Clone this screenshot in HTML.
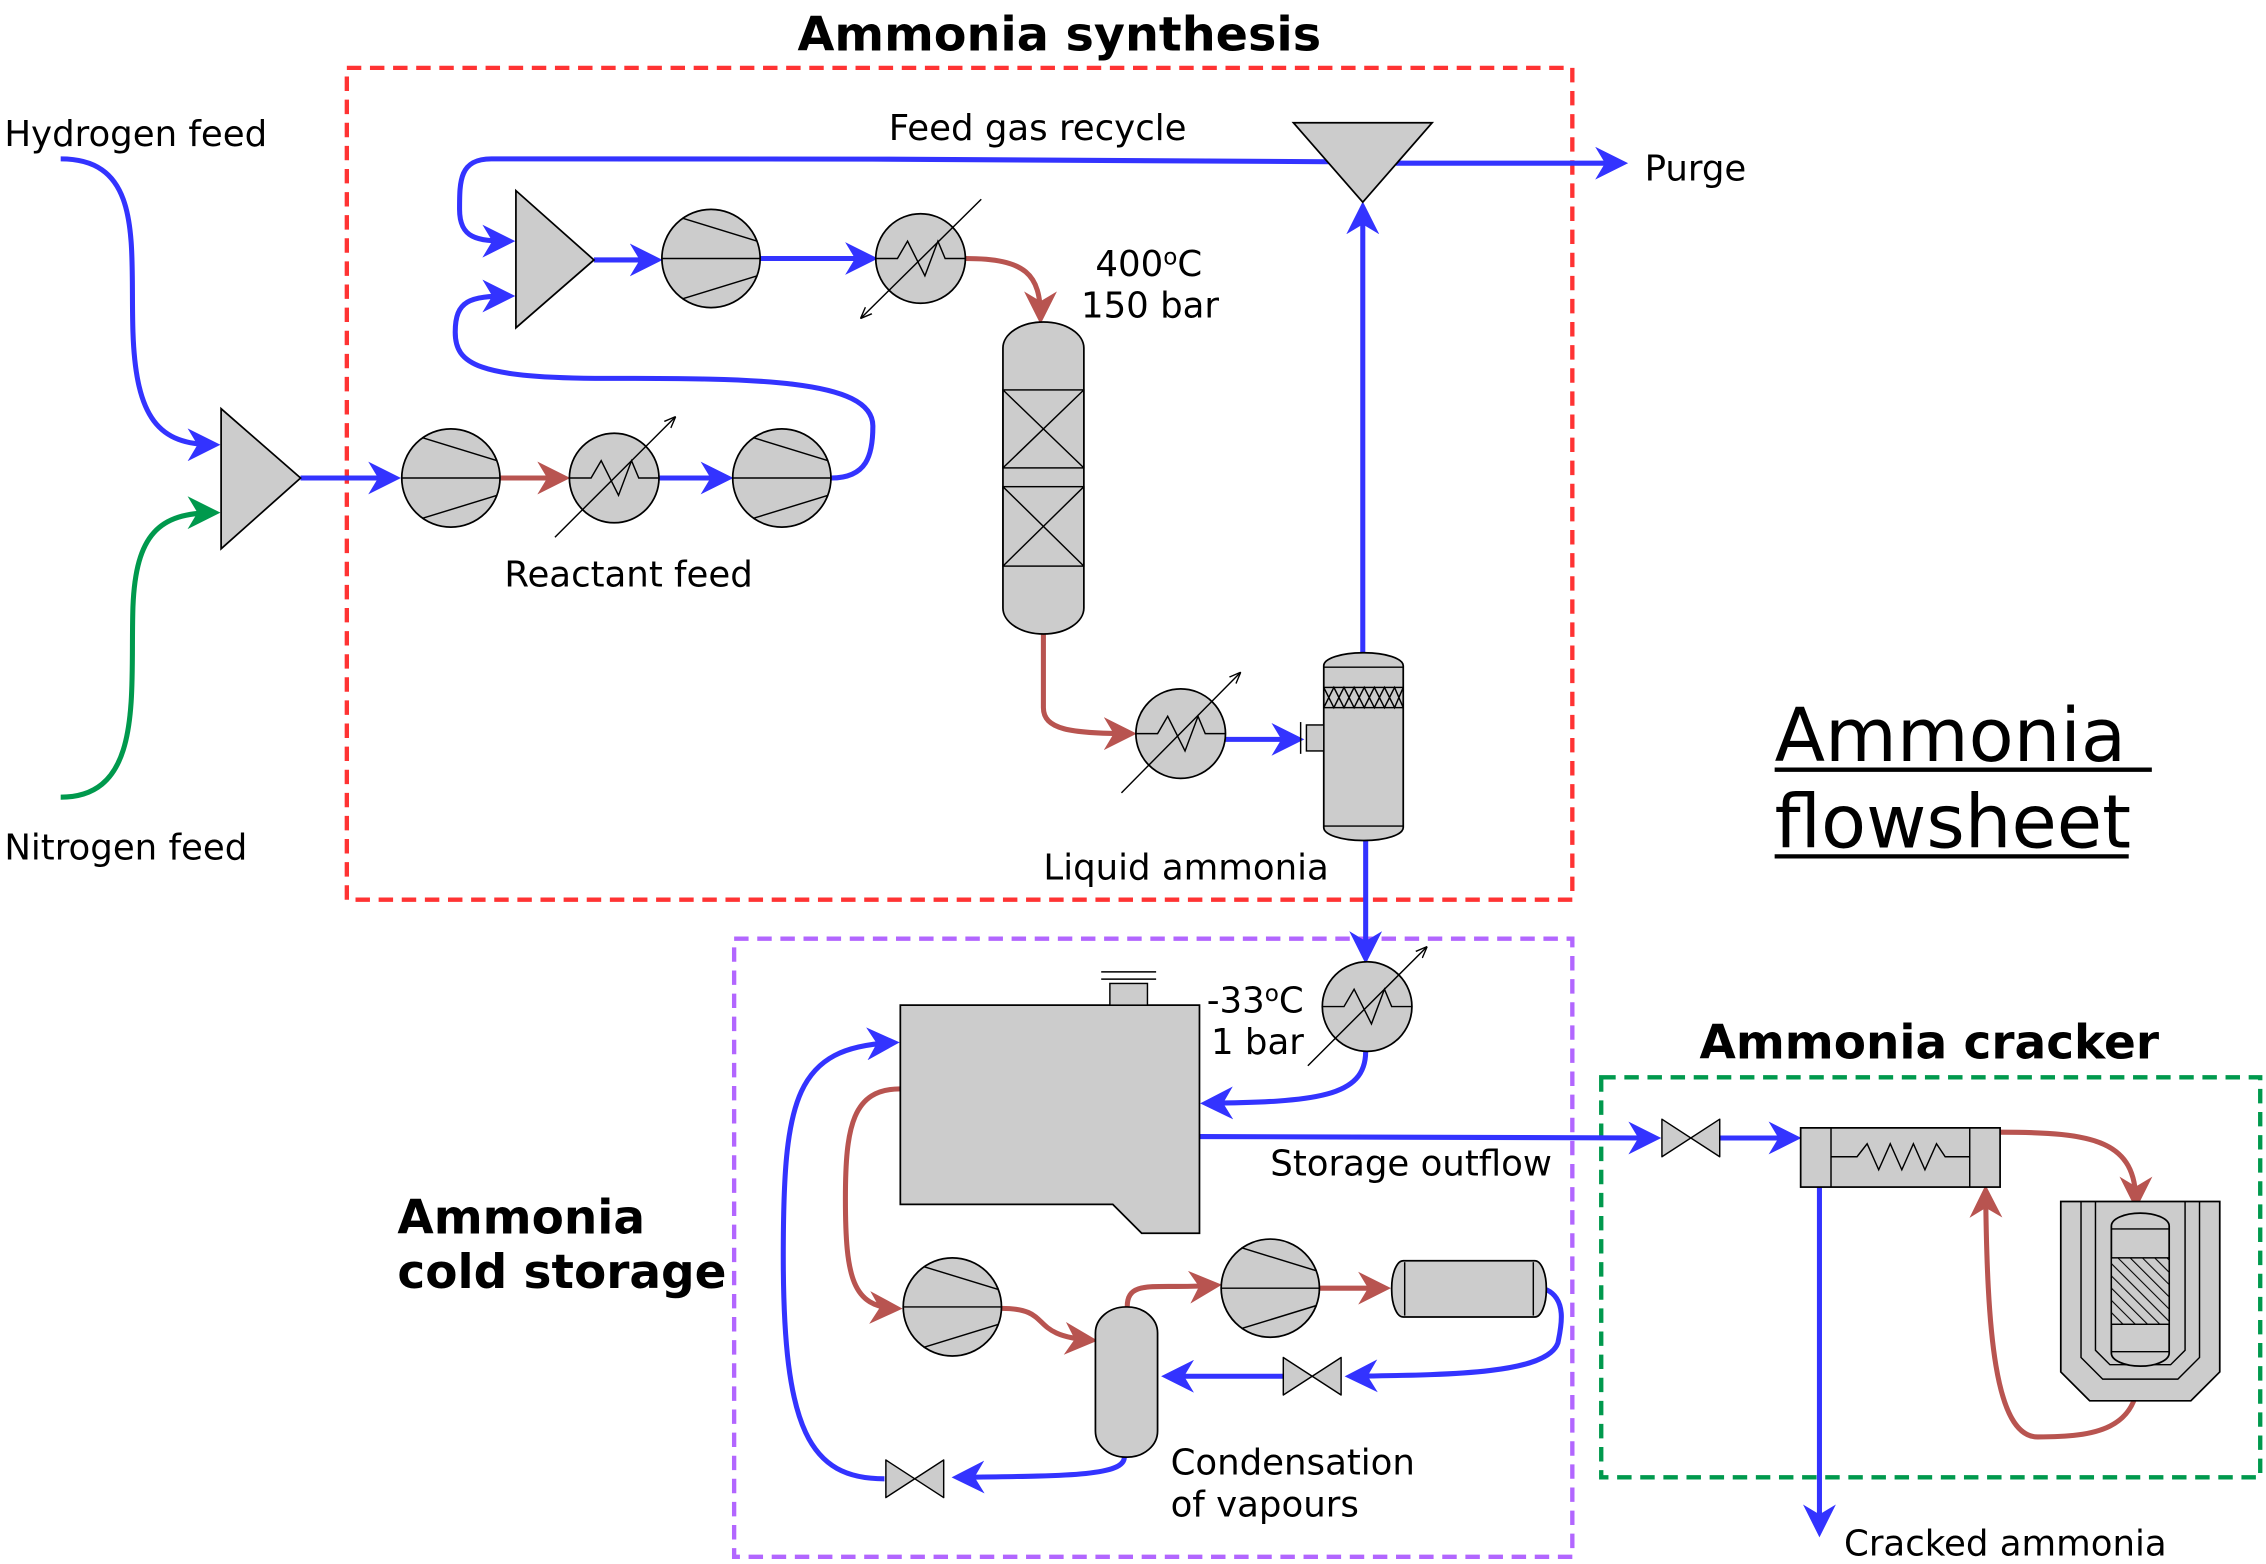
<!DOCTYPE html>
<html><head><meta charset="utf-8"><style>
html,body{margin:0;padding:0;background:#fff;}
svg{display:block;}
text{font-family:"DejaVu Sans","Liberation Sans",sans-serif;fill:#000;}
</style></head><body>
<svg width="2266" height="1564" viewBox="0 0 1568 1083" preserveAspectRatio="none" xmlns="http://www.w3.org/2000/svg">
<defs>
<marker id="ab" viewBox="0 0 10 10" refX="8" refY="5" markerWidth="6.5" markerHeight="6.5" orient="auto" markerUnits="strokeWidth"><path d="M0,0 L10,5 L0,10 L3,5 z" fill="#3333ff"/></marker>
<marker id="ar" viewBox="0 0 10 10" refX="8" refY="5" markerWidth="6.5" markerHeight="6.5" orient="auto" markerUnits="strokeWidth"><path d="M0,0 L10,5 L0,10 L3,5 z" fill="#b85450"/></marker>
<marker id="ag" viewBox="0 0 10 10" refX="8" refY="5" markerWidth="6.5" markerHeight="6.5" orient="auto" markerUnits="strokeWidth"><path d="M0,0 L10,5 L0,10 L3,5 z" fill="#00994d"/></marker>
<marker id="ak" viewBox="0 0 10 10" refX="9" refY="5" markerWidth="8" markerHeight="8" orient="auto" markerUnits="strokeWidth"><path d="M0,1 L10,5 L0,9" fill="none" stroke="#000" stroke-width="1.2"/></marker>
<pattern id="hatch" width="6" height="6" patternUnits="userSpaceOnUse" patternTransform="rotate(-45)"><rect width="6" height="6" fill="#ccc"/><line x1="0" y1="0" x2="0" y2="6" stroke="#000" stroke-width="1.5"/></pattern>
<g id="comp"><circle r="34" fill="#ccc" stroke="#000" stroke-width="1.2"/><line x1="-34" y1="0" x2="34" y2="0" stroke="#000"/><line x1="-20" y1="-28" x2="32" y2="-12" stroke="#000"/><line x1="-20" y1="28" x2="32" y2="12" stroke="#000"/></g>
<g id="hx"><circle r="31" fill="#ccc" stroke="#000" stroke-width="1.2"/><polyline points="-31,0 -16,0 -9,-12 3,12 12,-12 17,0 31,0" fill="none" stroke="#000"/></g>
<g id="valve"><path d="M-20,-13 L20,13 L20,-13 L-20,13 Z" fill="#ccc" stroke="#000" stroke-linejoin="round"/></g>
</defs>

<rect x="240" y="47" width="848" height="576" fill="none" stroke="#ff3333" stroke-width="3" stroke-dasharray="10,6"/>
<rect x="508" y="650" width="580" height="428" fill="none" stroke="#b266ff" stroke-width="3" stroke-dasharray="10,6"/>
<rect x="1108" y="746" width="456" height="277" fill="none" stroke="#00994d" stroke-width="3" stroke-dasharray="10,6"/>

<text x="733" y="35" font-size="33" font-weight="bold" text-anchor="middle">Ammonia synthesis</text>
<text x="1335" y="733" font-size="32.5" font-weight="bold" text-anchor="middle">Ammonia cracker</text>
<text x="275" y="854" font-size="32.5" font-weight="bold">Ammonia</text>
<text x="275" y="892" font-size="32.5" font-weight="bold">cold storage</text>
<text x="1228" y="527" font-size="51">Ammonia </text>
<line x1="1228" y1="533" x2="1489" y2="533" stroke="#000" stroke-width="3"/>
<text x="1228" y="587" font-size="51">flowsheet</text>
<line x1="1228" y1="593" x2="1473" y2="593" stroke="#000" stroke-width="3"/>

<g font-size="24.6">
<text x="3" y="101">Hydrogen feed</text>
<text x="3" y="595">Nitrogen feed</text>
<text x="615" y="97">Feed gas recycle</text>
<text x="1138" y="125">Purge</text>
<text x="758" y="191">400<tspan font-size="16" dy="-8">o</tspan><tspan dy="8">C</tspan></text>
<text x="748" y="220">150 bar</text>
<text x="349" y="406">Reactant feed</text>
<text x="722" y="609">Liquid ammonia</text>
<text x="835" y="701">-33<tspan font-size="16" dy="-8">o</tspan><tspan dy="8">C</tspan></text>
<text x="838" y="730">1 bar</text>
<text x="879" y="814">Storage outflow</text>
<text x="810" y="1021">Condensation</text>
<text x="810" y="1050">of vapours</text>
<text x="1276" y="1077">Cracked ammonia</text>
</g>

<g fill="none" stroke-width="3.5">
<path d="M42,110 C100,110 90,170 92,230 C94,290 110,308 148,308" stroke="#3333ff" marker-end="url(#ab)"/>
<path d="M42,552 C100,552 90,480 92,420 C94,370 110,355 148,355" stroke="#00994d" marker-end="url(#ag)"/>
<path d="M208,331 L273,331" stroke="#3333ff" marker-end="url(#ab)"/>
<path d="M346,331 L390,331" stroke="#b85450" marker-end="url(#ar)"/>
<path d="M456,331 L503,331" stroke="#3333ff" marker-end="url(#ab)"/>
<path d="M575,331 C600,331 604,315 604,295 C604,262 520,262 420,262 C330,262 315,252 315,230 C315,208 325,205 352,205" stroke="#3333ff" marker-end="url(#ab)"/>
<path d="M920,112 C800,110 500,110 340,110 C318,110 318,125 318,145 C318,165 330,167 352,167" stroke="#3333ff" marker-end="url(#ab)"/>
<path d="M411,180 L454,180" stroke="#3333ff" marker-end="url(#ab)"/>
<path d="M526,179 L603,179" stroke="#3333ff" marker-end="url(#ab)"/>
<path d="M668,179 C710,179 720,190 720,220" stroke="#b85450" marker-end="url(#ar)"/>
<path d="M722,439 L722,490 C722,505 740,508 782,508" stroke="#b85450" marker-end="url(#ar)"/>
<path d="M848,512 L898,512" stroke="#3333ff" marker-end="url(#ab)"/>
<path d="M943,452 L943,144" stroke="#3333ff" marker-end="url(#ab)"/>
<path d="M966,113 L1122,113" stroke="#3333ff" marker-end="url(#ab)"/>
<path d="M945,582 L945,663" stroke="#3333ff" marker-end="url(#ab)"/>
<path d="M945,728 C945,760 910,763 835,764" stroke="#3333ff" marker-end="url(#ab)"/>
<path d="M830,787 C950,788 1050,788 1145,788" stroke="#3333ff" marker-end="url(#ab)"/>
<path d="M1190,788 L1242,788" stroke="#3333ff" marker-end="url(#ab)"/>
<path d="M1384,784 C1450,784 1478,790 1478,833" stroke="#b85450" marker-end="url(#ar)"/>
<path d="M1480,950 C1480,990 1450,995 1410,995 C1380,995 1375,920 1374,825" stroke="#b85450" marker-end="url(#ar)"/>
<path d="M1259,822 L1259,1060" stroke="#3333ff" marker-end="url(#ab)"/>
<path d="M623,754 C590,754 585,780 585,830 C585,885 590,905 620,906" stroke="#b85450" marker-end="url(#ar)"/>
<path d="M693,906 C730,906 710,925 755,928" stroke="#b85450" marker-end="url(#ar)"/>
<path d="M780,905 C780,885 800,893 841,890" stroke="#b85450" marker-end="url(#ar)"/>
<path d="M913,892 L958,892" stroke="#b85450" marker-end="url(#ar)"/>
<path d="M1070,893 C1085,900 1080,920 1078,930 C1070,952 1000,952 935,953" stroke="#3333ff" marker-end="url(#ab)"/>
<path d="M888,953 L808,953" stroke="#3333ff" marker-end="url(#ab)"/>
<path d="M778,1009 C778,1022 740,1022 663,1023" stroke="#3333ff" marker-end="url(#ab)"/>
<path d="M612,1024 C560,1024 542,990 542,870 C542,760 550,725 618,722" stroke="#3333ff" marker-end="url(#ab)"/>
</g>

<polygon points="153,283 153,380 208,331" fill="#ccc" stroke="#000" stroke-width="1.2"/>
<polygon points="357,132 357,227 411,180" fill="#ccc" stroke="#000" stroke-width="1.2"/>
<polygon points="895,85 991,85 943,140" fill="#ccc" stroke="#000" stroke-width="1.2"/>
<use href="#comp" x="312" y="331"/>
<use href="#comp" x="541" y="331"/>
<use href="#comp" x="492" y="179"/>
<use href="#comp" x="659" y="905"/>
<use href="#comp" x="879" y="892"/>
<use href="#hx" x="425" y="331"/><line x1="384" y1="372" x2="467" y2="289" stroke="#000" marker-end="url(#ak)"/>
<use href="#hx" x="637" y="179"/><line x1="679" y1="138" x2="596" y2="220" stroke="#000" marker-end="url(#ak)"/>
<use href="#hx" x="817" y="508"/><line x1="776" y1="549" x2="858" y2="466" stroke="#000" marker-end="url(#ak)"/>
<use href="#hx" x="946" y="697"/><line x1="905" y1="738" x2="987" y2="656" stroke="#000" marker-end="url(#ak)"/>

<rect x="694" y="223" width="56" height="216" rx="28" ry="18" fill="#ccc" stroke="#000" stroke-width="1.2"/>
<g stroke="#000" fill="none"><rect x="694" y="270" width="56" height="54"/><line x1="694" y1="270" x2="750" y2="324"/><line x1="750" y1="270" x2="694" y2="324"/>
<rect x="694" y="337" width="56" height="55"/><line x1="694" y1="337" x2="750" y2="392"/><line x1="750" y1="337" x2="694" y2="392"/></g>

<rect x="916" y="452" width="55" height="130" rx="27" ry="9" fill="#ccc" stroke="#000" stroke-width="1.2"/>
<g stroke="#000" fill="none"><line x1="916" y1="462" x2="971" y2="462"/><line x1="916" y1="572" x2="971" y2="572"/>
<rect x="916" y="476" width="55" height="14"/>
<path d="M916,476 l7,14 l7,-14 l7,14 l7,-14 l7,14 l7,-14 l7,14 l6,-14 M916,490 l7,-14 l7,14 l7,-14 l7,14 l7,-14 l7,14 l7,-14 l6,14"/>
<rect x="904" y="502" width="12" height="18" fill="#ccc"/><line x1="900" y1="500" x2="900" y2="522"/></g>

<polygon points="623,696 830,696 830,854 790,854 770,834 623,834" fill="#ccc" stroke="#000" stroke-width="1.2"/>
<rect x="768" y="681" width="26" height="15" fill="#ccc" stroke="#000"/>
<line x1="762" y1="673" x2="800" y2="673" stroke="#000"/><line x1="762" y1="678" x2="800" y2="678" stroke="#000"/>

<rect x="758" y="905" width="43" height="104" rx="21" ry="18" fill="#ccc" stroke="#000" stroke-width="1.2"/>
<rect x="963" y="873" width="107" height="39" rx="8" ry="19" fill="#ccc" stroke="#000" stroke-width="1.2"/>
<line x1="972" y1="874" x2="972" y2="911" stroke="#000"/><line x1="1061" y1="874" x2="1061" y2="911" stroke="#000"/>

<use href="#valve" x="908" y="953"/>
<use href="#valve" x="633" y="1024"/>
<use href="#valve" x="1170" y="788"/>

<rect x="1246" y="781" width="138" height="41" fill="#ccc" stroke="#000" stroke-width="1.2"/>
<line x1="1267" y1="781" x2="1267" y2="822" stroke="#000"/><line x1="1363" y1="781" x2="1363" y2="822" stroke="#000"/>
<polyline points="1267,801 1285,801 1292,792 1300,810 1308,792 1316,810 1324,792 1332,810 1340,792 1346,801 1363,801" fill="none" stroke="#000"/>

<path d="M1426,832 L1536,832 L1536,950 L1516,970 L1446,970 L1426,950 Z" fill="#ccc" stroke="#000" stroke-width="1.2"/>
<path d="M1440,832 L1440,940 L1455,955 L1507,955 L1522,940 L1522,832" fill="none" stroke="#000"/>
<path d="M1450,832 L1450,935 L1460,945 L1502,945 L1512,935 L1512,832" fill="none" stroke="#000"/>
<rect x="1461" y="840" width="40" height="106" rx="20" ry="9" fill="#ccc" stroke="#000" stroke-width="1.2"/>
<line x1="1461" y1="851" x2="1501" y2="851" stroke="#000"/><line x1="1461" y1="936" x2="1501" y2="936" stroke="#000"/>
<rect x="1461" y="871" width="40" height="46" fill="url(#hatch)" stroke="#000"/>
</svg>
</body></html>
